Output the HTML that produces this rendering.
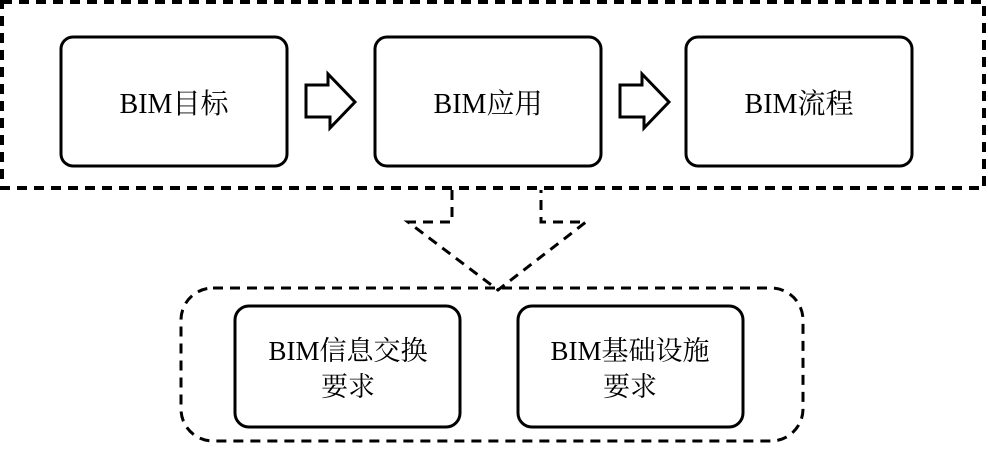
<!DOCTYPE html>
<html><head><meta charset="utf-8"><style>
body{margin:0;background:#fff;}
svg text{font-family:"Liberation Serif","Noto Serif CJK SC",serif;fill:#000;}
</style></head><body>
<svg width="988" height="446" viewBox="0 0 988 446" xmlns="http://www.w3.org/2000/svg">
<rect x="2" y="2" width="982" height="186" fill="none" stroke="#000" stroke-width="4" stroke-dasharray="10,7"/>
<g fill="none" stroke="#000" stroke-width="3">
<rect x="61" y="37" width="226" height="129" rx="12"/>
<rect x="375" y="37" width="226" height="129" rx="12"/>
<rect x="686" y="37" width="226" height="129" rx="12"/>
<path d="M306 85 H328 V74 L355 102 L330 128 V117 H306 Z"/>
<path d="M620 85 H642 V74 L669 102 L644 128 V117 H620 Z"/>
</g>
<g font-size="28" text-anchor="middle">
<text x="174" y="113">BIM目标</text>
<text x="488" y="113">BIM应用</text>
<text x="799" y="113">BIM流程</text>
</g>
<path d="M452 190 V222 H408 L498 290 L586 222 H541 V190" fill="none" stroke="#000" stroke-width="3" stroke-dasharray="10,7"/>
<rect x="181" y="288" width="622" height="153" rx="32" fill="none" stroke="#000" stroke-width="3" stroke-dasharray="10,7"/>
<g fill="none" stroke="#000" stroke-width="3">
<rect x="235" y="306" width="225" height="121" rx="14"/>
<rect x="518" y="306" width="225" height="121" rx="14"/>
</g>
<g font-size="27" text-anchor="middle">
<text x="348" y="360">BIM信息交换</text>
<text x="348" y="396">要求</text>
<text x="630" y="360">BIM基础设施</text>
<text x="630" y="396">要求</text>
</g>
</svg>
</body></html>
